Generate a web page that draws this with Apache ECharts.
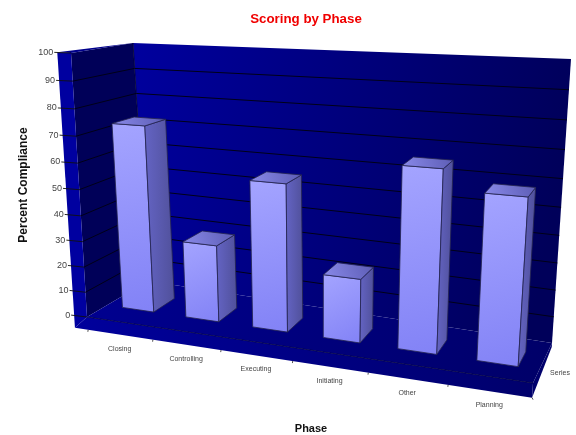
<!DOCTYPE html>
<html><head><meta charset="utf-8">
<style>html,body{margin:0;padding:0;background:#fff}#c{width:576px;height:435px;filter:blur(0.4px)}</style>
<script src="https://cdn.jsdelivr.net/npm/echarts@6/dist/echarts.min.js"></script>
</head><body><div id="c"></div>
<script>
const categories = ['Closing','Controlling','Executing','Initiating','Other','Planning'];
const compliance = [73, 30, 56, 24, 66, 59];
const yTicks = [0,10,20,30,40,50,60,70,80,90,100];
const depthLabel = 'Series';

// Oblique view of the value box: unit (u,v) plane at the front and at the back wall.
const FRONT = [[87,317],[533,383],[553,75],[71,53]];
const BACK  = [[148,281],[552,343],[571,59],[133,43]];
function homography(q){
  const [p0,p1,p2,p3]=q;
  const dx1=p1[0]-p2[0],dx2=p3[0]-p2[0],sx=p0[0]-p1[0]+p2[0]-p3[0];
  const dy1=p1[1]-p2[1],dy2=p3[1]-p2[1],sy=p0[1]-p1[1]+p2[1]-p3[1];
  const den=dx1*dy2-dx2*dy1;
  const g=(sx*dy2-dx2*sy)/den,h=(dx1*sy-sx*dy1)/den;
  const a=p1[0]-p0[0]+g*p1[0],b=p3[0]-p0[0]+h*p3[0],c=p0[0];
  const d=p1[1]-p0[1]+g*p1[1],e=p3[1]-p0[1]+h*p3[1],f=p0[1];
  return (u,v)=>{const t=g*u+h*v+1;return [(a*u+b*v+c)/t,(d*u+e*v+f)/t];};
}
const hF=homography(FRONT),hB=homography(BACK);
function P(u,v,w){const a=hF(u,v),b=hB(u,v);return [a[0]+(b[0]-a[0])*w,a[1]+(b[1]-a[1])*w];}

const BAR_W0=0.33,BAR_W1=0.70,BAR_FRAC=0.50;
const WALL_X=-0.034,FLOOR_V=-0.052;
const EDGE='#24244e';
const grad=(x0,y0,x1,y1,a,b)=>new echarts.graphic.LinearGradient(x0,y0,x1,y1,[{offset:0,color:a},{offset:1,color:b}]);
const poly=(pts,fill,stroke,lw)=>({type:'polygon',shape:{points:pts},style:{fill:fill,stroke:stroke||null,lineWidth:lw||0}});
const seg=(a,b,col,lw)=>({type:'line',shape:{x1:a[0],y1:a[1],x2:b[0],y2:b[1]},style:{stroke:col,lineWidth:lw,fill:null}});
const label=(txt,p,size,align,col)=>({type:'text',x:p[0],y:p[1],style:{text:txt,fontSize:size,fontFamily:'Liberation Sans',fill:col||'#333',align:align,verticalAlign:'middle'}});

function rect(params){return params.coordSys;}
function uv(params,pt){const r=rect(params);return [(pt[0]-r.x)/r.width,(r.y+r.height-pt[1])/r.height];}

function renderBox(params,api){
  const ch=[];
  ch.push(poly([P(0,0,1),P(1,0,1),P(1,1,1),P(0,1,1)],grad(0,0,1,0.3,'#00009e','#00005a')));
  ch.push(poly([P(0,0,0),P(0,0,1),P(0,1,1),P(0,1,0)],'#000058'));
  ch.push(poly([P(0,0,0),P(1,0,0),P(1,0,1),P(0,0,1)],grad(0,0,1,1,'#000090','#000068')));
  ch.push(poly([P(WALL_X,FLOOR_V,0),P(0,0,0),P(0,1,0),P(WALL_X,1,0)],'#0000a0'));
  ch.push(poly([P(WALL_X,1,0),P(0,1,0),P(0,1,1)],'#00008c'));
  ch.push(poly([P(WALL_X,FLOOR_V,0),P(1,FLOOR_V,0),P(1,0,0),P(0,0,0)],grad(0,0,1,0,'#00009c','#00006c')));
  ch.push(poly([P(1,FLOOR_V,0),P(1,-0.015,1),P(1,0,1),P(1,0,0)],'#00006c'));
  ch.push(seg(P(0,1,1),P(0,0,1),'#000030',0.8));
  ch.push(seg(P(0,0,0),P(1,0,0),'#000040',0.8));
  categories.forEach((c,i)=>{
    const q=P(i/6+0.001,FLOOR_V,0);
    ch.push(seg(q,[q[0]-0.3,q[1]+2],'#222',0.8));
  });
  return {type:'group',children:ch};
}
function renderGrid(params,api){
  const pt=api.coord([0,api.value(0)]);
  const v=uv(params,pt)[1];
  const ch=[];
  if(v>0&&v<1){
    ch.push(seg(P(0,v,0),P(0,v,1),'#000018',1));
    ch.push(seg(P(0,v,1),P(1,v,1),'#000018',1));
  }
  const o=P(WALL_X,v,0);
  ch.push(seg([o[0]-3,o[1]],P(0,v,0),'#111',0.9));
  ch.push(label(String(api.value(0)),[o[0]-4,o[1]],9,'right','#444'));
  return {type:'group',children:ch};
}
function renderBar(params,api){
  const i=api.value(0),val=api.value(1);
  const top=uv(params,api.coord([i,val])),half=BAR_FRAC*api.size([1,0])[0]/2/rect(params).width;
  const u0=top[0]-half,u1=top[0]+half,v=top[1];
  const A=P(u0,0,BAR_W0),B=P(u1,0,BAR_W0),C=P(u1,v,BAR_W0),D=P(u0,v,BAR_W0);
  const E=P(u1,0,BAR_W1),F=P(u1,v,BAR_W1),G=P(u0,v,BAR_W1);
  const la=P(top[0],FLOOR_V,0);
  return {type:'group',children:[
    poly([A,B,C,D],grad(0,0,1,1,'#a4a4ff','#8282f6'),EDGE,0.8),
    poly([B,E,F,C],grad(0,0,1,0,'#6464c4','#50509a'),EDGE,0.8),
    poly([D,C,F,G],grad(0,1,1,0,'#8a8aea','#5c5cb4'),EDGE,0.8),
    label(categories[i],[la[0],la[1]+14],7,'center','#444')
  ]};
}
function renderDepth(params,api){
  const q=P(1,FLOOR_V,0);
  return {type:'group',children:[label(depthLabel,[560,373],7,'center','#444'),
    seg(q,[q[0]+1,q[1]+2],'#222',0.8)]};
}

const chart=echarts.init(document.getElementById('c'),null,{renderer:'canvas'});
chart.setOption({
  animation:false,
  backgroundColor:'#fff',
  title:{text:'Scoring by Phase',left:301,top:6,textAlign:'center',textStyle:{color:'#f00000',fontSize:13.3,fontWeight:'bold',fontFamily:'Liberation Sans',lineHeight:16}},
  grid:{left:60,top:55,width:502,height:260,outerBoundsMode:'none'},
  xAxis:{type:'category',data:categories,name:'Phase',nameLocation:'middle',nameGap:108,
    nameTextStyle:{fontSize:11,fontWeight:'bold',color:'#111',fontFamily:'Liberation Sans'},
    axisLine:{show:false},axisTick:{show:false},axisLabel:{show:false},splitLine:{show:false}},
  yAxis:{type:'value',min:0,max:100,interval:10,name:'Percent Compliance',nameLocation:'middle',nameGap:30,
    nameTextStyle:{fontSize:12,fontWeight:'bold',color:'#111',fontFamily:'Liberation Sans'},
    axisLine:{show:false},axisTick:{show:false},axisLabel:{show:false},splitLine:{show:false}},
  series:[
    {type:'custom',name:'box',silent:true,renderItem:renderBox,data:[[0]],encode:{y:0},clip:false,z:1},
    {type:'custom',name:'ticks',silent:true,renderItem:renderGrid,data:yTicks.map(t=>[t]),encode:{y:0},clip:false,z:2},
    {type:'custom',name:'Series',renderItem:renderBar,data:compliance.map((v,i)=>[i,v]),encode:{x:0,y:1},clip:false,z:3},
    {type:'custom',name:'depth',silent:true,renderItem:renderDepth,data:[[0]],encode:{y:0},clip:false,z:4}
  ]
});
</script></body></html>
